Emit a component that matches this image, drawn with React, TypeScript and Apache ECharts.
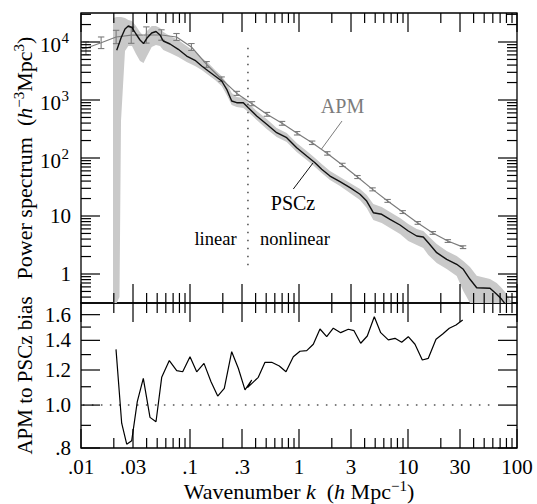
import React, { useEffect, useRef } from 'react';
import * as echarts from 'echarts';

// ---------------- data ----------------
// APM power spectrum (h^-3 Mpc^3) with error bars (half-width in dex)
const apmK = [0.0100, 0.0111, 0.0153, 0.0210, 0.0289, 0.0398, 0.0547, 0.0752, 0.103, 0.142, 0.195, 0.269, 0.370, 0.508, 0.699, 0.961, 1.32, 1.82, 2.50, 3.44, 4.73, 6.50, 8.94, 12.3, 16.9, 23.2, 32.0];
const apmP = [7700, 7800, 9700, 12200, 13100, 13200, 13200, 12200, 8200, 4100, 2280, 1300, 864, 566, 396, 267, 183, 120, 76, 47, 28.8, 18.2, 11.7, 7.6, 5.1, 3.7, 2.9];
const apmErrDex = [0, 0.11, 0.10, 0.115, 0.14, 0.14, 0.09, 0.06, 0.06, 0.05, 0.04, 0.035, 0.035, 0.033, 0.033, 0.03, 0.03, 0.03, 0.028, 0.026, 0.026, 0.025, 0.025, 0.024, 0.024, 0.024, 0.024];

// PSCz power spectrum and its uncertainty band
const psczK = [0.01966, 0.02126, 0.02255, 0.02328, 0.02533, 0.02716, 0.02937, 0.03196, 0.03478, 0.03745, 0.04031, 0.04452, 0.04876, 0.05307, 0.05689, 0.06555, 0.0781, 0.0932, 0.1112, 0.1281, 0.1472, 0.1696, 0.1953, 0.2172, 0.2413, 0.2682, 0.3083, 0.3426, 0.4091, 0.5056, 0.6243, 0.7713, 0.9526, 1.177, 1.402, 1.615, 1.925, 2.377, 2.937, 3.627, 4.18, 4.806, 5.737, 6.837, 8.446, 10.06, 12.02, 13.81, 15.36, 18.34, 22.65, 27.98, 32.16, 37.05, 42.69, 56.54, 65.14, 72.4, 80.44, 89.96];
const psczP = [null, 7190, 9800, 11720, 16760, 18880, 17780, 13740, 10830, 9420, 11720, 14290, 15170, 13200, 10400, 9240, 7480, 5735, 4836, 3855, 3162, 2593, 2126, 1530, 961, 898, 898, 736, 530, 381, 273, 224, 150.5, 108.3, 83, 63.9, 48.9, 39.0, 30.8, 23.7, 18.1, 11.4, 10.7, 8.77, 7.0, 5.51, 4.52, 4.35, 3.46, 2.33, 1.79, 1.47, 1.205, 0.81, 0.58, 0.567, 0.447, 0.366, 0.281, null];
const psczHi = [25930, 26980, 26980, 26980, 25930, 23950, 23020, 18880, 14870, 12690, 15480, 18880, 18880, 17430, 14870, 12690, 10830, 8530, 6724, 5300, 4345, 3291, 2593, 1965, 1321, 1126, 1083, 888, 646, 470, 329, 270, 181, 132, 100, 78.8, 59.7, 47, 37.1, 29.2, 23, 16.1, 14.3, 11.7, 9.24, 7.28, 5.97, 5.51, 4.52, 3.29, 2.49, 2.04, 1.68, 1.32, 0.93, 0.82, 0.70, 0.574, 0.45, 0.304];
const psczLo = [0.30, 0.23, 0.40, 434, 7000, 8530, 8530, 6210, 4703, 4345, 5735, 8200, 8880, 8530, 7278, 6460, 5513, 4520, 3857, 3291, 2698, 2212, 1743, 1220, 820, 757, 728, 621, 452, 316, 230, 189, 127, 92.4, 70, 55.1, 41.8, 32.9, 24.9, 18.9, 13.7, 8.53, 7.57, 6.21, 4.89, 3.71, 3.16, 2.81, 2.13, 1.55, 1.22, 0.92, 0.51, 0.23, 0.23, 0.23, 0.23, 0.23, 0.23, 0.23];

// APM to PSCz bias
const biasK = [0.02095, 0.02362, 0.02626, 0.02919, 0.03284, 0.03729, 0.04295, 0.04876, 0.0550, 0.06459, 0.07551, 0.0857, 0.100, 0.1152, 0.1344, 0.1559, 0.1795, 0.2064, 0.2413, 0.2774, 0.3196, 0.3681, 0.3369, 0.4232, 0.4876, 0.5617, 0.6597, 0.7598, 0.8867, 1.021, 1.177, 1.353, 1.558, 1.795, 2.064, 2.413, 2.834, 3.196, 3.682, 4.232, 4.907, 5.617, 6.597, 7.598, 8.753, 10.06, 11.59, 13.53, 15.36, 18.07, 20.81, 23.92, 27.56, 31.76];
const biasV = [1.336, 0.910, 0.816, 0.831, 1.018, 1.149, 0.938, 0.917, 1.155, 1.260, 1.196, 1.189, 1.286, 1.189, 1.242, 1.129, 1.048, 1.091, 1.320, 1.211, 1.082, 1.139, 1.095, 1.155, 1.249, 1.249, 1.225, 1.189, 1.286, 1.323, 1.327, 1.372, 1.485, 1.427, 1.491, 1.457, 1.483, 1.472, 1.379, 1.432, 1.583, 1.457, 1.403, 1.415, 1.386, 1.427, 1.372, 1.264, 1.275, 1.408, 1.447, 1.491, 1.516, 1.556];

// annotation lines
const dividerK = [0.34, 0.34];
const dividerP = [7975, 1.27];
const unityK = [0.0104, 56.5];
const unityB = [1, 1];
const apmLeaderK = [2.48, 1.61];
const apmLeaderP = [434, 143];
const psczLeaderK = [1.344, 0.887];
const psczLeaderP = [82, 29.2];

// ticks
const xMajorTicks = [0.01, 0.03, 0.1, 0.3, 1, 3, 10, 30, 100];
const xTickLabels = ['.01', '.03', '.1', '.3', '1', '3', '10', '30', '100'];
const xMinorTicks = [0.02, 0.04, 0.05, 0.06, 0.07, 0.08, 0.09, 0.2, 0.4, 0.5, 0.6, 0.7, 0.8, 0.9, 2, 4, 5, 6, 7, 8, 9, 20, 40, 50, 60, 70, 80, 90];
const pMajorTicks = [1, 10, 100, 1000, 10000];
const pTickBase = ['1', '10', '10', '10', '10'];
const pTickExp = ['', '', '2', '3', '4'];
const pMinorTicks = [0.4, 0.5, 0.6, 0.7, 0.8, 0.9, 2, 3, 4, 5, 6, 7, 8, 9, 20, 30, 40, 50, 60, 70, 80, 90, 200, 300, 400, 500, 600, 700, 800, 900, 2000, 3000, 4000, 5000, 6000, 7000, 8000, 9000, 20000, 30000];
const bMajorTicks = [0.8, 1.0, 1.2, 1.4, 1.6];
const bTickLabels = ['.8', '1.0', '1.2', '1.4', '1.6'];
const bMinorTicks = [0.9, 1.1, 1.3, 1.5];

const FONT = '"Liberation Serif", "Times New Roman", Times, serif';

export default function App() {
  const ref = useRef<HTMLDivElement>(null);

  useEffect(() => {
    if (!ref.current) return;
    const chart = echarts.init(ref.current, null, { renderer: 'svg' });

    const K_MIN = 0.01, K_MAX = 100;
    const P_MIN = Math.pow(10, -0.5), P_MAX = Math.pow(10, 4.5);
    const B_MIN = 0.8, B_MAX = 1.7;
    const tickStyle = { stroke: '#000', lineWidth: 1.2 };
    const GRAY = '#7c7c7c';

    const clampP = (v: number) => Math.min(Math.max(v, P_MIN), P_MAX);

    const xTickSeries = (gi: number, yLo: number, yHi: number) => ({
      type: 'custom',
      xAxisIndex: gi,
      yAxisIndex: gi,
      silent: true,
      z: 20,
      encode: { x: 0, y: 1 },
      data: [...xMajorTicks.map((k) => [k, 1, 1]), ...xMinorTicks.map((k) => [k, 1, 0])],
      renderItem: (params: any, api: any) => {
        const k = api.value(0);
        const L = api.value(2) ? 19 : 10;
        const t = api.coord([k, yHi]);
        const b = api.coord([k, yLo]);
        return {
          type: 'group',
          children: [
            { type: 'line', shape: { x1: t[0], y1: t[1], x2: t[0], y2: t[1] + L }, style: tickStyle },
            { type: 'line', shape: { x1: b[0], y1: b[1], x2: b[0], y2: b[1] - L }, style: tickStyle },
          ],
        };
      },
    });

    const yTickSeries = (gi: number, majors: number[], minors: number[]) => ({
      type: 'custom',
      xAxisIndex: gi,
      yAxisIndex: gi,
      silent: true,
      z: 20,
      encode: { x: 0, y: 1 },
      data: [...majors.map((v) => [1, v, 1]), ...minors.map((v) => [1, v, 0])],
      renderItem: (params: any, api: any) => {
        const v = api.value(1);
        const L = api.value(2) ? 19 : 10;
        const l = api.coord([K_MIN, v]);
        const r = api.coord([K_MAX, v]);
        return {
          type: 'group',
          children: [
            { type: 'line', shape: { x1: l[0], y1: l[1], x2: l[0] + L, y2: l[1] }, style: tickStyle },
            { type: 'line', shape: { x1: r[0], y1: r[1], x2: r[0] - L, y2: r[1] }, style: tickStyle },
          ],
        };
      },
    });

    const textStyle = (text: string, size: number, align: string, fill = '#000') => ({
      text,
      fontSize: size,
      fontFamily: FONT,
      fill,
      align,
      verticalAlign: 'middle',
    });

    const option: any = {
      animation: false,
      backgroundColor: '#fff',
      grid: [
        { left: 81, top: 13, width: 436, height: 290, show: true, borderColor: '#000', borderWidth: 1.3, backgroundColor: 'transparent' },
        { left: 81, top: 303, width: 436, height: 145, show: true, borderColor: '#000', borderWidth: 1.3, backgroundColor: 'transparent' },
      ],
      xAxis: [
        {
          type: 'log', logBase: 10, gridIndex: 0, min: K_MIN, max: K_MAX,
          axisLine: { show: false }, axisTick: { show: false }, axisLabel: { show: false }, splitLine: { show: false },
        },
        {
          type: 'log', logBase: 10, gridIndex: 1, min: K_MIN, max: K_MAX,
          axisLine: { show: false }, axisTick: { show: false }, axisLabel: { show: false }, splitLine: { show: false },
          name: '{n|Wavenumber }{i|k}{n|  (}{i|h}{n| Mpc}{s|−1}{n|)}',
          nameLocation: 'middle',
          nameGap: 30,
          nameTextStyle: {
            fontFamily: FONT, fontSize: 22, color: '#000',
            rich: {
              n: { fontFamily: FONT, fontSize: 22, lineHeight: 26, color: '#000' },
              i: { fontFamily: FONT, fontSize: 22, lineHeight: 26, fontStyle: 'italic', color: '#000' },
              s: { fontFamily: FONT, fontSize: 15, lineHeight: 10, verticalAlign: 'top', color: '#000' },
            },
          },
        },
      ],
      yAxis: [
        {
          type: 'log', logBase: 10, gridIndex: 0, min: P_MIN, max: P_MAX,
          axisLine: { show: false }, axisTick: { show: false }, axisLabel: { show: false }, splitLine: { show: false },
          name: '{n|Power spectrum  (}{i|h}{s|−3}{n|Mpc}{s|3}{n|)}',
          nameLocation: 'middle',
          nameRotate: 90,
          nameGap: 44,
          nameTextStyle: {
            fontFamily: FONT, fontSize: 22, color: '#000',
            rich: {
              n: { fontFamily: FONT, fontSize: 22, lineHeight: 26, color: '#000' },
              i: { fontFamily: FONT, fontSize: 22, lineHeight: 26, fontStyle: 'italic', color: '#000' },
              s: { fontFamily: FONT, fontSize: 15, lineHeight: 10, verticalAlign: 'top', color: '#000' },
            },
          },
        },
        {
          type: 'log', logBase: 10, gridIndex: 1, min: B_MIN, max: B_MAX,
          axisLine: { show: false }, axisTick: { show: false }, axisLabel: { show: false }, splitLine: { show: false },
          name: 'APM to PSCz bias',
          nameLocation: 'middle',
          nameRotate: 90,
          nameGap: 46,
          nameTextStyle: { fontFamily: FONT, fontSize: 21, color: '#000' },
        },
      ],
      graphic: [
        { type: 'text', x: 342.5, y: 106, z: 30, style: textStyle('APM', 20, 'center', GRAY) },
        { type: 'text', x: 293, y: 203, z: 30, style: textStyle('PSCz', 20, 'center', '#000') },
        { type: 'text', x: 215.5, y: 239, z: 30, style: textStyle('linear', 18.5, 'center', '#000') },
        { type: 'text', x: 295, y: 239, z: 30, style: textStyle('nonlinear', 18.5, 'center', '#000') },
      ],
      series: [
        // PSCz uncertainty band
        {
          type: 'custom',
          xAxisIndex: 0,
          yAxisIndex: 0,
          silent: true,
          z: 1,
          encode: { x: 0, y: 1 },
          data: [[1, 1]],
          renderItem: (params: any, api: any) => {
            const pts: number[][] = [];
            for (let i = 0; i < psczK.length; i++) pts.push(api.coord([psczK[i], clampP(psczHi[i])]));
            for (let i = psczK.length - 1; i >= 0; i--) pts.push(api.coord([psczK[i], clampP(psczLo[i])]));
            return { type: 'polygon', shape: { points: pts }, style: { fill: '#c9c9c9', stroke: 'none' } };
          },
        },
        // linear / nonlinear divider
        {
          type: 'line', xAxisIndex: 0, yAxisIndex: 0, z: 2, silent: true,
          data: dividerK.map((k, i) => [k, dividerP[i]]),
          symbol: 'none',
          lineStyle: { color: '#555', width: 1.6, type: [1.6, 6.4] },
        },
        // APM
        {
          type: 'line', xAxisIndex: 0, yAxisIndex: 0, z: 3, silent: true,
          data: apmK.map((k, i) => [k, apmP[i]]),
          symbol: 'none',
          lineStyle: { color: GRAY, width: 1.2 },
        },
        // APM error bars
        {
          type: 'custom', xAxisIndex: 0, yAxisIndex: 0, z: 4, silent: true,
          encode: { x: 0, y: 1 },
          data: apmK.map((k, i) => [k, apmP[i], apmErrDex[i]]),
          renderItem: (params: any, api: any) => {
            const k = api.value(0), p = api.value(1), e = api.value(2);
            if (!e) return null;
            const f = Math.pow(10, e);
            const lo = api.coord([k, p / f]);
            const hi = api.coord([k, p * f]);
            const w = 3.2;
            const st = { stroke: GRAY, lineWidth: 1.1 };
            return {
              type: 'group',
              children: [
                { type: 'line', shape: { x1: lo[0], y1: lo[1], x2: hi[0], y2: hi[1] }, style: st },
                { type: 'line', shape: { x1: lo[0] - w, y1: lo[1], x2: lo[0] + w, y2: lo[1] }, style: st },
                { type: 'line', shape: { x1: hi[0] - w, y1: hi[1], x2: hi[0] + w, y2: hi[1] }, style: st },
              ],
            };
          },
        },
        // PSCz
        {
          type: 'line', xAxisIndex: 0, yAxisIndex: 0, z: 5, silent: true,
          data: psczK.map((k, i) => [k, psczP[i]]).filter((d) => d[1] !== null),
          symbol: 'none',
          lineStyle: { color: '#111', width: 1.4 },
        },
        // leader lines
        {
          type: 'line', xAxisIndex: 0, yAxisIndex: 0, z: 6, silent: true,
          data: apmLeaderK.map((k, i) => [k, apmLeaderP[i]]),
          symbol: 'none',
          lineStyle: { color: GRAY, width: 1 },
        },
        {
          type: 'line', xAxisIndex: 0, yAxisIndex: 0, z: 6, silent: true,
          data: psczLeaderK.map((k, i) => [k, psczLeaderP[i]]),
          symbol: 'none',
          lineStyle: { color: '#111', width: 1 },
        },
        // bias = 1 reference
        {
          type: 'line', xAxisIndex: 1, yAxisIndex: 1, z: 2, silent: true,
          data: unityK.map((k, i) => [k, unityB[i]]),
          symbol: 'none',
          lineStyle: { color: '#555', width: 1.5, type: [1.6, 7.4] },
        },
        // bias
        {
          type: 'line', xAxisIndex: 1, yAxisIndex: 1, z: 5, silent: true,
          data: biasK.map((k, i) => [k, biasV[i]]),
          symbol: 'none',
          lineStyle: { color: '#000', width: 1.2 },
        },
        // ticks
        xTickSeries(0, P_MIN, P_MAX),
        xTickSeries(1, B_MIN, B_MAX),
        yTickSeries(0, pMajorTicks, pMinorTicks),
        yTickSeries(1, bMajorTicks, bMinorTicks),
        // x tick labels
        {
          type: 'custom', xAxisIndex: 1, yAxisIndex: 1, z: 20, silent: true,
          encode: { x: 0, y: 1 },
          data: xMajorTicks.map((k, i) => [k, 1, i]),
          renderItem: (params: any, api: any) => {
            const p = api.coord([api.value(0), B_MIN]);
            const idx = api.value(2);
            return { type: 'text', x: p[0], y: p[1] + 19, style: textStyle(xTickLabels[idx], 21, 'center') };
          },
        },
        // top y tick labels
        {
          type: 'custom', xAxisIndex: 0, yAxisIndex: 0, z: 20, silent: true,
          encode: { x: 0, y: 1 },
          data: pMajorTicks.map((v, i) => [1, v, i]),
          renderItem: (params: any, api: any) => {
            const p = api.coord([K_MIN, api.value(1)]);
            const idx = api.value(2);
            const exp = pTickExp[idx];
            if (!exp) {
              return { type: 'text', x: p[0] - 10, y: p[1], style: textStyle(pTickBase[idx], 21, 'right') };
            }
            return {
              type: 'group',
              children: [
                { type: 'text', x: p[0] - 20, y: p[1] + 2.5, style: textStyle(pTickBase[idx], 21, 'right') },
                { type: 'text', x: p[0] - 19.5, y: p[1] - 4, style: textStyle(exp, 15, 'left') },
              ],
            };
          },
        },
        // bias tick labels
        {
          type: 'custom', xAxisIndex: 1, yAxisIndex: 1, z: 20, silent: true,
          encode: { x: 0, y: 1 },
          data: bMajorTicks.map((v, i) => [1, v, i]),
          renderItem: (params: any, api: any) => {
            const p = api.coord([K_MIN, api.value(1)]);
            return { type: 'text', x: p[0] - 10, y: p[1], style: textStyle(bTickLabels[api.value(2)], 21, 'right') };
          },
        },
      ],
    };

    chart.setOption(option);
    return () => {
      chart.dispose();
    };
  }, []);

  return (
    <div
      ref={ref}
      style={{ position: 'fixed', left: 0, top: 0, width: 537, height: 504, background: '#fff' }}
    />
  );
}
